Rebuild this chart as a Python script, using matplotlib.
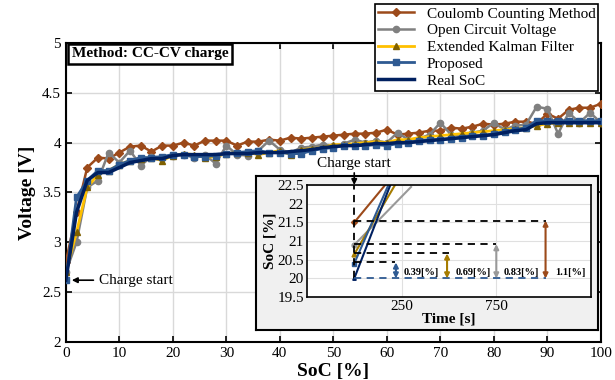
import numpy as np
import matplotlib
matplotlib.use("Agg")
import matplotlib.pyplot as plt

plt.rcParams['font.family'] = ['Liberation Serif', 'DejaVu Serif']
plt.rcParams['mathtext.fontset'] = 'stix'

# ---- main chart data (SoC every 2 %) ----
soc = list(range(0, 101, 2))

coulomb = [2.80, 3.30, 3.75, 3.85, 3.84, 3.90, 3.96, 3.97, 3.91, 3.97,
           3.97, 4.00, 3.97, 4.02, 4.02, 4.02, 3.97, 4.01, 4.01, 4.03,
           4.02, 4.05, 4.04, 4.05, 4.06, 4.07, 4.08, 4.09, 4.09, 4.10,
           4.13, 4.08, 4.09, 4.10, 4.12, 4.12, 4.15, 4.14, 4.16, 4.19,
           4.18, 4.19, 4.21, 4.21, 4.19, 4.29, 4.24, 4.33, 4.35, 4.35,
           4.39]
ocv = [2.70, 3.00, 3.55, 3.62, 3.90, 3.80, 3.92, 3.77, 3.86, 3.85,
       3.87, 3.88, 3.85, 3.88, 3.79, 3.97, 3.88, 3.87, 3.92, 4.02,
       3.93, 3.90, 3.95, 3.96, 3.98, 3.97, 3.99, 4.03, 4.00, 4.02,
       4.00, 4.10, 4.03, 4.04, 4.08, 4.20, 4.08, 4.07, 4.10, 4.12,
       4.20, 4.13, 4.17, 4.18, 4.36, 4.34, 4.09, 4.30, 4.20, 4.30,
       4.20]
ekf = [2.70, 3.10, 3.55, 3.68, 3.72, 3.78, 3.82, 3.84, 3.85, 3.82,
       3.87, 3.89, 3.88, 3.85, 3.86, 3.89, 3.90, 3.90, 3.88, 3.90,
       3.92, 3.88, 3.93, 3.94, 3.95, 3.98, 3.98, 3.99, 4.00, 4.01,
       4.00, 4.03, 4.03, 4.05, 4.06, 4.07, 4.08, 4.09, 4.10, 4.11,
       4.12, 4.13, 4.14, 4.15, 4.17, 4.19, 4.20, 4.20, 4.20, 4.20,
       4.20]
proposed = [2.62, 3.45, 3.62, 3.72, 3.72, 3.78, 3.82, 3.85, 3.85, 3.86,
            3.88, 3.88, 3.86, 3.86, 3.87, 3.89, 3.90, 3.91, 3.92, 3.90,
            3.90, 3.89, 3.89, 3.92, 3.94, 3.95, 3.97, 3.97, 3.97, 3.98,
            3.97, 3.99, 4.00, 4.02, 4.03, 4.03, 4.04, 4.05, 4.07, 4.07,
            4.09, 4.11, 4.13, 4.15, 4.22, 4.22, 4.22, 4.22, 4.22, 4.22,
            4.22]
real = [2.62, 3.30, 3.62, 3.70, 3.70, 3.75, 3.80, 3.82, 3.84, 3.84,
        3.87, 3.88, 3.88, 3.88, 3.88, 3.89, 3.89, 3.89, 3.90, 3.90,
        3.90, 3.91, 3.92, 3.93, 3.95, 3.96, 3.97, 3.97, 3.98, 3.99,
        3.99, 4.00, 4.00, 4.01, 4.02, 4.03, 4.04, 4.05, 4.06, 4.07,
        4.08, 4.10, 4.12, 4.13, 4.19, 4.20, 4.20, 4.20, 4.20, 4.20,
        4.20]

# ---- inset data (time in s, SoC in %) ----
t_in = [0, 150, 300]
cc_in = [21.5, 22.42, 23.34]
ocv_in = [20.9, 21.67, 22.45]
ekf_in = [20.65, 21.94, 23.23]
prop_in = [20.4, 22.15, 23.9]
real_in = [20.0, 21.97, 23.94]

err_labels = ['0.39[%]', '0.69[%]', '0.83[%]', '1.1[%]']
err_levels = [20.43, 20.67, 20.92, 21.55]
err_ends = [215, 500, 750, 1010]
err_arrow_t = [220, 490, 750, 1010]
err_text_t = [262, 537, 790, 1060]

c_cc = '#9C4A1A'
c_ocv = '#808080'
c_ekf_line = '#FFC000'
c_ekf_mk = '#7F6000'
c_ekf_in = '#A67C00'
c_prop = '#2E5A92'
c_real = '#002060'

fig = plt.figure(figsize=(6.15, 3.8), dpi=100)
ax = fig.add_axes([0.107, 0.1, 0.87, 0.787])

ax.plot(soc, coulomb, color=c_cc, lw=1.8, marker='D', ms=4.5, label='Coulomb Counting Method', zorder=3)
ax.plot(soc, ocv, color=c_ocv, lw=1.8, marker='o', ms=4.5, label='Open Circuit Voltage', zorder=3)
ax.plot(soc, ekf, color=c_ekf_line, lw=2, marker='^', ms=5, mfc=c_ekf_mk, mec=c_ekf_mk,
        label='Extended Kalman Filter', zorder=4)
ax.plot(soc, proposed, color=c_prop, lw=2, marker='s', ms=4.5, label='Proposed', zorder=5)
ax.plot(soc, real, color=c_real, lw=2.5, label='Real SoC', zorder=6)

ax.set_xlim(0, 100)
ax.set_ylim(2, 5)
ax.set_xticks(range(0, 101, 10))
ax.set_yticks([2, 2.5, 3, 3.5, 4, 4.5, 5])
ax.set_yticklabels(['2', '2.5', '3', '3.5', '4', '4.5', '5'])
ax.tick_params(direction='in', top=True, right=True, labelsize=11, length=4, width=1.2)
ax.grid(True, color='#D9D9D9', lw=1)
ax.set_axisbelow(True)
for s in ax.spines.values():
    s.set_linewidth(1.5)
ax.set_xlabel('SoC [%]', fontsize=14, fontweight='bold', labelpad=2)
ax.set_ylabel('Voltage [V]', fontsize=14, fontweight='bold', labelpad=4)

ax.text(0.011, 0.985, 'Method: CC-CV charge', transform=ax.transAxes, fontsize=11,
        fontweight='bold', va='top', ha='left',
        bbox=dict(boxstyle='square,pad=0.25', fc='white', ec='black', lw=1.8))

ax.annotate('Charge start', xy=(0.6, 2.62), xytext=(6.2, 2.62), fontsize=11, va='center',
            arrowprops=dict(arrowstyle='-|>', color='black', lw=1.2, mutation_scale=8))

fig.legend(loc='upper right', bbox_to_anchor=(0.973, 0.99), fontsize=11, frameon=True,
           fancybox=False, edgecolor='black', framealpha=1, borderpad=0.2, labelspacing=0.2,
           handlelength=2.4, handletextpad=0.8, borderaxespad=0).get_frame().set_linewidth(1.2)

# ---- inset panel ----
panel = fig.add_axes([0.416, 0.132, 0.556, 0.405])
panel.set_facecolor('#F0F0F0')
panel.set_xticks([])
panel.set_yticks([])
for s in panel.spines.values():
    s.set_linewidth(1.5)

ins = fig.add_axes([0.499, 0.218, 0.462, 0.295])
ins.plot(t_in, cc_in, color=c_cc, lw=1.5, marker='D', ms=3, markevery=[0])
ins.plot(t_in, ocv_in, color='#999999', lw=1.5, marker='o', ms=3.5, markevery=[0])
ins.plot(t_in, ekf_in, color=c_ekf_in, lw=1.5, marker='^', ms=3.5, markevery=[0])
ins.plot(t_in, prop_in, color=c_prop, lw=1.5, marker='s', ms=3.5, markevery=[0])
ins.plot(t_in, real_in, color=c_real, lw=1.5, marker='^', ms=2.5, markevery=[0])

ins.plot([0, 0], [20, 22.5], color='black', ls='--', lw=1.3, dashes=(4, 3))
ins.plot([0, err_ends[-1]], [20, 20], color=c_prop, ls='--', lw=1.3, dashes=(4, 3))
arrow_cols = [c_prop, c_ekf_in, '#999999', c_cc]
for lab, lev, end, at, tt, col in zip(err_labels, err_levels, err_ends, err_arrow_t,
                                      err_text_t, arrow_cols):
    ins.plot([0, end], [lev, lev], color='black', lw=1.3, dashes=(4, 3))
    ins.annotate('', xy=(at, lev), xytext=(at, 20.0),
                 arrowprops=dict(arrowstyle='<|-|>', color=col, lw=1.5, mutation_scale=7,
                                 shrinkA=0, shrinkB=0))
    ins.text(tt, 20.15, lab, fontsize=7.5, fontweight='bold', va='center', ha='left')

ins.set_xlim(-250, 1250)
ins.set_ylim(19.5, 22.5)
ins.set_xticks([250, 750])
ins.set_yticks([19.5, 20, 20.5, 21, 21.5, 22, 22.5])
ins.set_yticklabels(['19.5', '20', '20.5', '21', '21.5', '22', '22.5'])
ins.tick_params(direction='in', labelsize=11, length=0, pad=2)
ins.grid(True, color='#E0E0E0', lw=0.8)
ins.set_axisbelow(True)
ins.set_xlabel('Time [s]', fontsize=11, fontweight='bold', labelpad=0)
ins.set_ylabel('SoC [%]', fontsize=11, fontweight='bold', labelpad=1)
for s in ins.spines.values():
    s.set_linewidth(1.2)

ins.annotate('Charge start', xy=(0, 22.5), xytext=(0, 22.9), fontsize=11,
             ha='center', va='bottom', annotation_clip=False,
             arrowprops=dict(arrowstyle='-|>', color='black', lw=1.2, mutation_scale=8,
                             shrinkA=0, shrinkB=0))

fig.savefig('out.png', dpi=100)
